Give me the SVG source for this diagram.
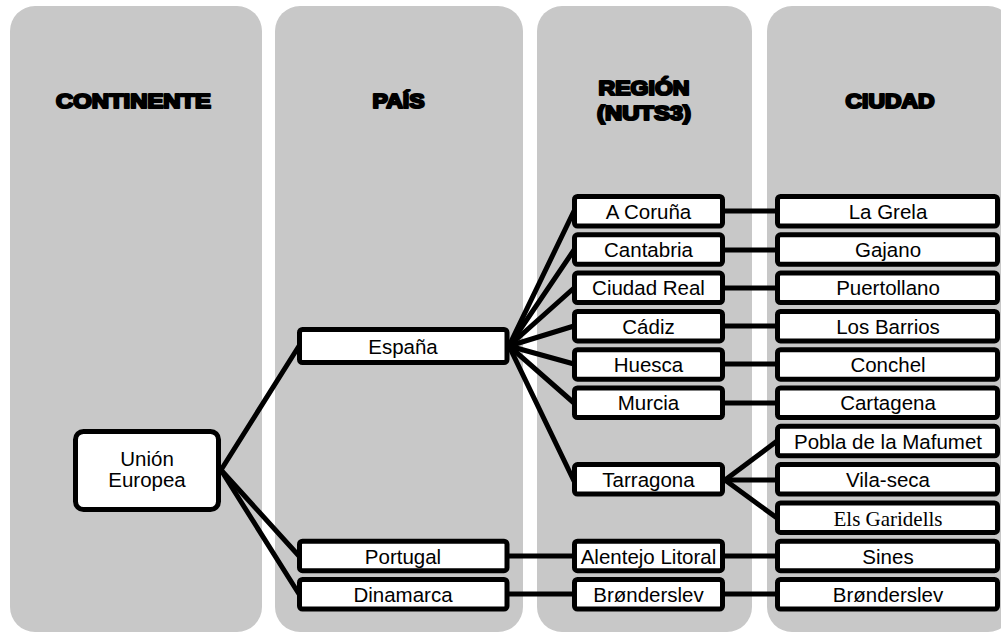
<svg xmlns="http://www.w3.org/2000/svg" width="1001" height="633" viewBox="0 0 1001 633">
<style>
.col{fill:#c8c8c8}
.hdr{font-family:"Liberation Sans",Arial,sans-serif;font-weight:bold;font-size:21px;fill:#000;stroke:#000;stroke-width:2.2px;stroke-linejoin:round;text-anchor:middle}
.box{fill:#fff;stroke:#000;stroke-width:5}
.t{font-family:"Liberation Sans",Arial,sans-serif;font-size:20.5px;fill:#000;text-anchor:middle}
.s{font-family:"Liberation Serif","Times New Roman",serif;font-size:21px;fill:#000;text-anchor:middle}
#connectors line{stroke:#000;stroke-width:5;stroke-linecap:round}
</style>
<rect width="1001" height="633" fill="#fff"/>
<g id="columns">
<rect class="col" x="10" y="6" width="252" height="626" rx="25"/>
<rect class="col" x="275" y="6" width="248" height="626" rx="25"/>
<rect class="col" x="537" y="6" width="215" height="626" rx="25"/>
<rect class="col" x="767" y="6" width="246" height="626" rx="25"/>
</g>
<g id="headers">
<text class="hdr" x="133.5" y="107.5" textLength="155" lengthAdjust="spacingAndGlyphs">CONTINENTE</text>
<text class="hdr" x="398.5" y="107.5" textLength="52" lengthAdjust="spacingAndGlyphs">PAÍS</text>
<text class="hdr" x="644" y="94.5" textLength="91" lengthAdjust="spacingAndGlyphs">REGIÓN</text>
<text class="hdr" x="644" y="120" textLength="94" lengthAdjust="spacingAndGlyphs">(NUTS3)</text>
<text class="hdr" x="890" y="107.5" textLength="89" lengthAdjust="spacingAndGlyphs">CIUDAD</text>
</g>
<g id="connectors">
<line x1="221" y1="470" x2="299" y2="346"/>
<line x1="221" y1="470" x2="299" y2="556"/>
<line x1="221" y1="470" x2="299" y2="594"/>
<line x1="509" y1="346" x2="574" y2="211"/>
<line x1="509" y1="346" x2="574" y2="250"/>
<line x1="509" y1="346" x2="574" y2="288"/>
<line x1="509" y1="346" x2="574" y2="326"/>
<line x1="509" y1="346" x2="574" y2="364"/>
<line x1="509" y1="346" x2="574" y2="403"/>
<line x1="509" y1="346" x2="574" y2="481"/>
<line x1="509" y1="556" x2="574" y2="556"/>
<line x1="509" y1="594" x2="574" y2="594"/>
<line x1="725" y1="211" x2="777" y2="211"/>
<line x1="725" y1="250" x2="777" y2="250"/>
<line x1="725" y1="288" x2="777" y2="288"/>
<line x1="725" y1="326" x2="777" y2="326"/>
<line x1="725" y1="364" x2="777" y2="364"/>
<line x1="725" y1="403" x2="777" y2="403"/>
<line x1="725" y1="480" x2="777" y2="441"/>
<line x1="725" y1="480" x2="777" y2="480"/>
<line x1="725" y1="480" x2="777" y2="518"/>
<line x1="725" y1="556" x2="777" y2="556"/>
<line x1="725" y1="594" x2="777" y2="594"/>
</g>
<g id="n-ue"><rect class="box" x="75.5" y="431.5" width="143" height="78" rx="8"/><text class="t" x="147" y="466">Unión</text><text class="t" x="147" y="487">Europea</text></g>
<g id="n-espana"><rect class="box" x="299.5" y="329.5" width="207.5" height="33" rx="3"/><text class="t" x="403" y="353.5">España</text></g>
<g id="n-portugal"><rect class="box" x="299.5" y="541.2" width="207.5" height="29.5" rx="3"/><text class="t" x="403" y="563.5">Portugal</text></g>
<g id="n-dinamarca"><rect class="box" x="299.5" y="579.5" width="207.5" height="29.5" rx="3"/><text class="t" x="403" y="601.8">Dinamarca</text></g>
<g id="r-coruna"><rect class="box" x="574.5" y="196.5" width="148" height="29.5" rx="3"/><text class="t" x="648.5" y="218.8">A Coruña</text></g>
<g id="r-cantabria"><rect class="box" x="574.5" y="234.8" width="148" height="29.5" rx="3"/><text class="t" x="648.5" y="257.1">Cantabria</text></g>
<g id="r-ciudadreal"><rect class="box" x="574.5" y="273.1" width="148" height="29.5" rx="3"/><text class="t" x="648.5" y="295.4">Ciudad Real</text></g>
<g id="r-cadiz"><rect class="box" x="574.5" y="311.4" width="148" height="29.5" rx="3"/><text class="t" x="648.5" y="333.7">Cádiz</text></g>
<g id="r-huesca"><rect class="box" x="574.5" y="349.7" width="148" height="29.5" rx="3"/><text class="t" x="648.5" y="372">Huesca</text></g>
<g id="r-murcia"><rect class="box" x="574.5" y="388" width="148" height="29.5" rx="3"/><text class="t" x="648.5" y="410.3">Murcia</text></g>
<g id="r-tarragona"><rect class="box" x="574.5" y="464.6" width="148" height="29.5" rx="3"/><text class="t" x="648.5" y="486.9">Tarragona</text></g>
<g id="r-alentejo"><rect class="box" x="574.5" y="541.2" width="148" height="29.5" rx="3"/><text class="t" x="648.5" y="563.5">Alentejo Litoral</text></g>
<g id="r-bronderslev"><rect class="box" x="574.5" y="579.5" width="148" height="29.5" rx="3"/><text class="t" x="648.5" y="601.8">Brønderslev</text></g>
<g id="c-lagrela"><rect class="box" x="777.5" y="196.5" width="220" height="29.5" rx="3"/><text class="t" x="888" y="218.8">La Grela</text></g>
<g id="c-gajano"><rect class="box" x="777.5" y="234.8" width="220" height="29.5" rx="3"/><text class="t" x="888" y="257.1">Gajano</text></g>
<g id="c-puertollano"><rect class="box" x="777.5" y="273.1" width="220" height="29.5" rx="3"/><text class="t" x="888" y="295.4">Puertollano</text></g>
<g id="c-losbarrios"><rect class="box" x="777.5" y="311.4" width="220" height="29.5" rx="3"/><text class="t" x="888" y="333.7">Los Barrios</text></g>
<g id="c-conchel"><rect class="box" x="777.5" y="349.7" width="220" height="29.5" rx="3"/><text class="t" x="888" y="372">Conchel</text></g>
<g id="c-cartagena"><rect class="box" x="777.5" y="388" width="220" height="29.5" rx="3"/><text class="t" x="888" y="410.3">Cartagena</text></g>
<g id="c-pobla"><rect class="box" x="777.5" y="426.3" width="220" height="29.5" rx="3"/><text class="t" x="888" y="448.6">Pobla de la Mafumet</text></g>
<g id="c-vilaseca"><rect class="box" x="777.5" y="464.6" width="220" height="29.5" rx="3"/><text class="t" x="888" y="486.9">Vila-seca</text></g>
<g id="c-garidells"><rect class="box" x="777.5" y="502.9" width="220" height="29.5" rx="3"/><text class="s" x="888" y="525.5">Els Garidells</text></g>
<g id="c-sines"><rect class="box" x="777.5" y="541.2" width="220" height="29.5" rx="3"/><text class="t" x="888" y="563.5">Sines</text></g>
<g id="c-bronderslev"><rect class="box" x="777.5" y="579.5" width="220" height="29.5" rx="3"/><text class="t" x="888" y="601.8">Brønderslev</text></g>
</svg>
